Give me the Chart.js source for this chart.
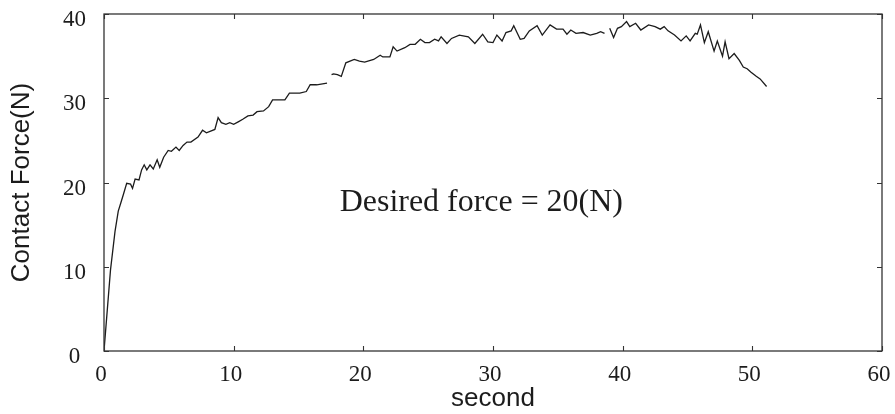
<!DOCTYPE html>
<html>
<head>
<meta charset="utf-8">
<script src="https://cdn.jsdelivr.net/npm/chart.js@4/dist/chart.umd.min.js"></script>
<style>
  html, body { margin: 0; padding: 0; background: #ffffff; }
  #wrap { width: 895px; height: 414px; position: relative; }
</style>
</head>
<body>
<div id="wrap"><canvas id="c" width="895" height="414"></canvas></div>
<script>
// Measured contact force during the run (null marks a break in the record)
const timeSec = [
  0, 0.5, 0.85, 1.1, 1.3, 1.5, 1.75, 2.05, 2.2, 2.4, 2.7, 2.9, 3.1, 3.3, 3.55, 3.8,
  4.1, 4.3, 4.6, 4.95, 5.2, 5.55, 5.8, 6.1, 6.4, 6.7, 7.25, 7.6, 7.9, 8.55, 8.8,
  9.05, 9.4, 9.7, 10.0, 10.35, 10.7, 11.1, 11.5, 11.8, 12.3, 12.7, 13.0, 13.95,
  14.3, 15.1, 15.6, 15.9, 16.4, 17.2,
  17.35,
  17.55, 17.7, 18.0, 18.3, 18.65, 19.3, 19.7, 20.1, 20.8, 21.3, 21.5, 22.05, 22.3,
  22.6, 23.2, 23.6, 24.0, 24.4, 24.75, 25.1, 25.5, 25.8, 26.0, 26.45, 26.8, 27.4,
  28.1, 28.6, 29.2, 29.6, 30.0, 30.3, 30.7, 31.0, 31.4, 31.6, 32.1, 32.4, 32.8,
  33.4, 33.8, 34.4, 34.9, 35.4, 35.7, 36.0, 36.4, 36.95, 37.5, 38.0, 38.3, 38.6,
  38.8,
  39.0, 39.3, 39.6, 39.9, 40.3, 40.55, 41.0, 41.4, 42.0, 42.5, 42.9, 43.2, 43.5,
  44.0, 44.5, 44.9, 45.2, 45.6, 45.75, 46.0, 46.3, 46.6, 47.05, 47.3, 47.7, 47.9,
  48.2, 48.6, 49.0, 49.3, 49.6, 49.9, 50.3, 50.6, 51.1
];
const forceN = [
  0, 9.6, 14.2, 16.6, 17.6, 18.6, 19.9, 19.8, 19.3, 20.4, 20.3, 21.5, 22.1, 21.5, 22.1, 21.6,
  22.7, 21.8, 23.0, 23.8, 23.7, 24.2, 23.8, 24.4, 24.8, 24.8, 25.4, 26.2, 25.9, 26.3, 27.7,
  27.1, 26.9, 27.1, 26.9, 27.2, 27.5, 27.9, 28.0, 28.4, 28.5, 29.0, 29.8, 29.8,
  30.6, 30.6, 30.8, 31.6, 31.6, 31.8,
  null,
  32.8, 32.9, 32.8, 32.6, 34.2, 34.6, 34.4, 34.3, 34.6, 35.1, 34.9, 34.9, 36.1,
  35.6, 36.0, 36.4, 36.4, 37.0, 36.6, 36.6, 37.0, 36.8, 37.3, 36.5, 37.1, 37.5,
  37.3, 36.5, 37.6, 36.7, 36.6, 37.5, 36.8, 37.8, 38.0, 38.6, 37.0, 37.1, 38.0,
  38.6, 37.5, 38.7, 38.2, 38.2, 37.6, 38.1, 37.7, 37.8, 37.5, 37.7, 37.9, 37.7,
  null,
  38.3, 37.2, 38.3, 38.5, 39.1, 38.5, 38.9, 38.1, 38.7, 38.5, 38.2, 38.5, 38.0,
  37.5, 36.8, 37.4, 36.8, 37.7, 37.6, 38.7, 36.6, 37.9, 35.6, 36.8, 35.0, 36.7,
  34.7, 35.3, 34.5, 33.7, 33.5, 33.1, 32.6, 32.3, 31.4
];

// Axis ranges and tick steps
const xTicks = [0, 10, 20, 30, 40, 50, 60];
const yTicks = [0, 10, 20, 30, 40];

// Note written inside the plot, anchored in data units
const noteText = 'Desired force = 20(N)';
const noteAt = { x: 29.1, y: 17.6 };

const INK = '#1c1c1c';

// Frame around the plot with short inward tick marks on all four sides
const framePlugin = {
  id: 'frame',
  afterDatasetsDraw(chart) {
    const { ctx, chartArea: a, scales } = chart;
    const len = 5;
    ctx.save();
    ctx.strokeStyle = '#333';
    ctx.lineWidth = 1.3;
    ctx.strokeRect(a.left, a.top, a.right - a.left, a.bottom - a.top);
    ctx.lineWidth = 1.1;
    ctx.beginPath();
    xTicks.forEach(v => {
      const px = Math.round(scales.x.getPixelForValue(v)) + 0.5;
      ctx.moveTo(px, a.bottom); ctx.lineTo(px, a.bottom - len);
      ctx.moveTo(px, a.top); ctx.lineTo(px, a.top + len);
    });
    yTicks.forEach(v => {
      const py = Math.round(scales.y.getPixelForValue(v)) + 0.5;
      ctx.moveTo(a.left, py); ctx.lineTo(a.left + len, py);
      ctx.moveTo(a.right, py); ctx.lineTo(a.right - len, py);
    });
    ctx.stroke();

    // annotation
    const nx = scales.x.getPixelForValue(noteAt.x);
    const ny = scales.y.getPixelForValue(noteAt.y);
    ctx.fillStyle = INK;
    ctx.font = '31px "Liberation Serif", "Times New Roman", serif';
    ctx.textAlign = 'center';
    ctx.textBaseline = 'middle';
    ctx.translate(nx, ny);
    ctx.scale(1.03, 1);
    ctx.fillText(noteText, 0, 0);
    ctx.restore();
  }
};

new Chart(document.getElementById('c'), {
  type: 'line',
  data: {
    datasets: [{
      data: timeSec.map((t, i) => ({ x: t, y: forceN[i] })),
      borderColor: INK,
      borderWidth: 1.3,
      pointRadius: 0,
      tension: 0,
      spanGaps: false,
      fill: false
    }]
  },
  options: {
    responsive: false,
    animation: false,
    events: [],
    layout: { padding: { top: 14, right: 13, bottom: 0, left: 0 } },
    plugins: { legend: { display: false }, tooltip: { enabled: false } },
    scales: {
      x: {
        type: 'linear',
        min: 0, max: 60,
        afterFit(s) { s.height = 63; s.paddingLeft = 0; s.paddingRight = 0; },
        afterBuildTicks(s) { s.ticks = xTicks.map(v => ({ value: v })); },
        grid: { display: false, drawTicks: false },
        border: { display: false },
        ticks: {
          color: INK,
          padding: 10,
          labelOffset: -3,
          maxRotation: 0,
          font: { family: '"Liberation Serif", "Times New Roman", serif', size: 23 }
        },
        title: {
          display: true,
          text: 'second',
          color: INK,
          padding: { top: 0, bottom: 0 },
          font: { family: '"Liberation Sans", Arial, sans-serif', size: 26 }
        }
      },
      y: {
        min: 0, max: 40,
        afterFit(s) { s.width = 104; s.paddingTop = 0; s.paddingBottom = 0; },
        afterBuildTicks(s) { s.ticks = yTicks.map(v => ({ value: v })); },
        grid: { display: false, drawTicks: false },
        border: { display: false },
        ticks: {
          color: INK,
          padding: 18,
          crossAlign: 'center',
          labelOffset: 6,
          font: { family: '"Liberation Serif", "Times New Roman", serif', size: 23 }
        },
        title: {
          display: true,
          text: 'Contact Force(N)',
          color: INK,
          padding: { top: 6, bottom: 0 },
          font: { family: '"Liberation Sans", Arial, sans-serif', size: 26 }
        }
      }
    }
  },
  plugins: [framePlugin]
});
</script>
</body>
</html>
